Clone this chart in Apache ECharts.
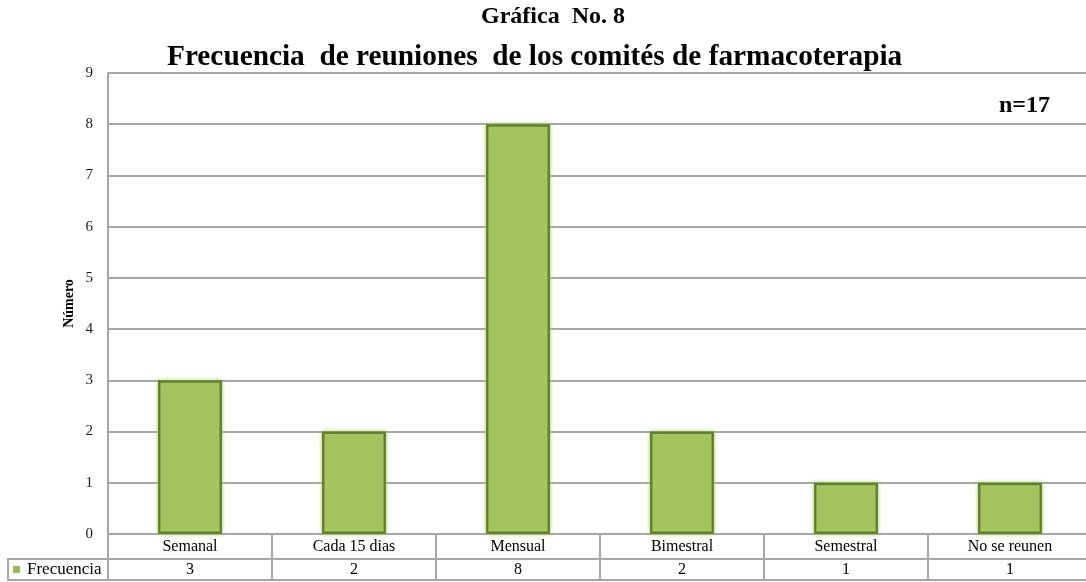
<!DOCTYPE html>
<html>
<head>
<meta charset="utf-8">
<script src="https://cdn.jsdelivr.net/npm/echarts@6/dist/echarts.min.js"></script>
<style>
  html, body { margin: 0; padding: 0; background: #fff; }
  #chart { width: 1086px; height: 582px; }
</style>
</head>
<body>
<div id="chart"></div>
<script>
// datos
const categorias = ['Semanal', 'Cada 15 dias', 'Mensual', 'Bimestral', 'Semestral', 'No se reunen'];
const frecuencia = [3, 2, 8, 2, 1, 1];
const serieNombre = 'Frecuencia';
const titulo1 = 'Gráfica  No. 8';
const titulo2 = 'Frecuencia  de reuniones  de los comités de farmacoterapia';
const muestra = 'n=17';

const serif = '"Liberation Serif", "Times New Roman", serif';
const gris = '#a6a6a6';

const chart = echarts.init(document.getElementById('chart'));

const option = {
    animation: false,
    title: [
        {
            text: titulo1,
            left: 476,
            top: 0,
            textStyle: { fontFamily: serif, fontSize: 24, fontWeight: 'bold', color: '#000' }
        },
        {
            text: titulo2,
            left: 162,
            top: 38,
            textStyle: { fontFamily: serif, fontSize: 29.3, fontWeight: 'bold', color: '#000' }
        },
        {
            text: muestra,
            right: 31,
            top: 89,
            textStyle: { fontFamily: serif, fontSize: 24, fontWeight: 'bold', color: '#000' }
        }
    ],
    legend: {
        data: [serieNombre],
        left: 13,
        top: 561,
        padding: 0,
        icon: 'rect',
        itemWidth: 7,
        itemHeight: 7,
        itemStyle: { borderWidth: 0, color: '#9bbb59' },
        textStyle: { fontFamily: serif, fontSize: 17, color: '#000', padding: [0, 0, 0, 2] }
    },
    grid: {
        left: 108,
        width: 984,
        top: 73,
        bottom: 48,
        outerBoundsMode: 'none'
    },
    xAxis: [
        {
            type: 'category',
            data: categorias,
            position: 'bottom',
            axisLine: { show: true, lineStyle: { color: gris, width: 2 } },
            axisTick: { show: true, length: 25, lineStyle: { color: gris, width: 2 } },
            axisLabel: { fontFamily: serif, fontSize: 16, color: '#000', margin: 5 }
        },
        {
            type: 'category',
            data: categorias,
            position: 'bottom',
            offset: 25,
            axisLine: { show: true, lineStyle: { color: gris, width: 2 } },
            axisTick: { show: true, length: 21, lineStyle: { color: gris, width: 2 } },
            axisLabel: {
                fontFamily: serif,
                fontSize: 16,
                color: '#000',
                margin: 3,
                formatter: (v, i) => String(frecuencia[i])
            }
        },
        {
            type: 'category',
            data: categorias,
            position: 'bottom',
            offset: 46,
            axisLine: { show: true, lineStyle: { color: gris, width: 2 } },
            axisTick: { show: false },
            axisLabel: { show: false }
        }
    ],
    yAxis: {
        type: 'value',
        min: 0,
        max: 9,
        interval: 1,
        name: 'Número',
        nameLocation: 'middle',
        nameRotate: 90,
        nameGap: 32,
        nameMoveOverlap: false,
        nameTextStyle: { fontFamily: serif, fontSize: 14, fontWeight: 'bold', color: '#000' },
        axisLine: { show: true, lineStyle: { color: gris, width: 2 } },
        axisTick: { show: false },
        axisLabel: { fontFamily: serif, fontSize: 15, color: '#1a1a2a', margin: 15 },
        splitLine: { show: true, lineStyle: { color: gris, width: 2 } }
    },
    graphic: [
        {
            type: 'rect',
            shape: { x: 8, y: 559, width: 100, height: 21 },
            style: { fill: 'none', stroke: gris, lineWidth: 2 },
            silent: true
        }
    ],
    series: [
        {
            name: serieNombre,
            type: 'bar',
            data: frecuencia,
            barWidth: 64,
            itemStyle: {
                color: '#a3c45f',
                borderColor: '#63802f',
                borderWidth: 2.5,
                shadowColor: 'rgba(170, 205, 110, 0.9)',
                shadowBlur: 4
            }
        }
    ]
};

chart.setOption(option);
</script>
</body>
</html>
